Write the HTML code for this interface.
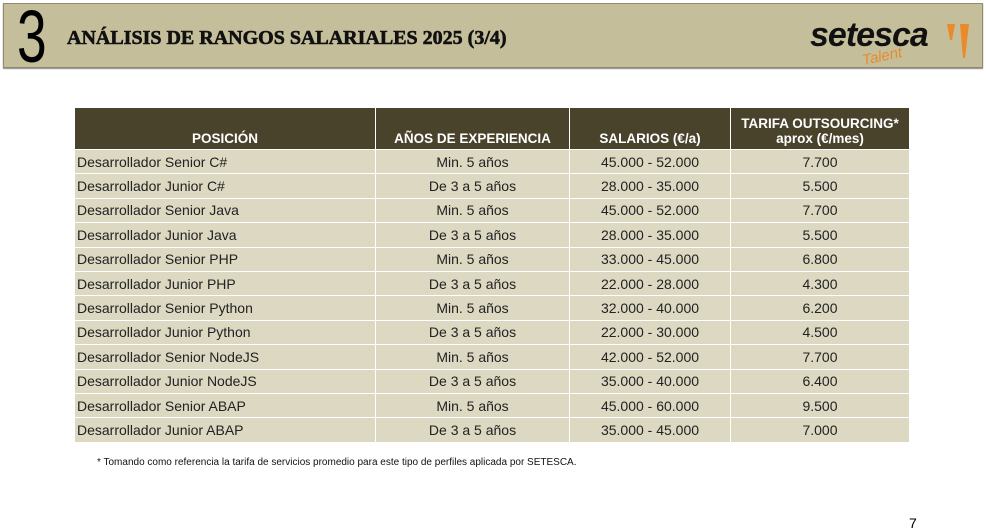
<!DOCTYPE html>
<html><head><meta charset="utf-8"><style>
body{margin:0;width:986px;height:524px;background:#fff;position:relative;overflow:hidden;font-family:"Liberation Sans",sans-serif}
.hdr{position:absolute;left:3px;top:3px;width:978px;height:63px;background:#c5be9a;border:1px solid #8f8a6c;box-shadow:0 1px 1px #888}
.num{position:absolute;left:17px;top:0px;font-size:74px;line-height:74px;color:#000;transform:scaleX(0.72);transform-origin:left}
.ttl{position:absolute;left:67px;top:27px;font-family:"Liberation Serif",serif;font-weight:bold;font-size:20px;color:#111;-webkit-text-stroke:0.6px #111}
.logo{position:absolute;left:810px;top:16px;font-size:34px;font-weight:bold;font-style:italic;color:#111;letter-spacing:-1px}
.talent{position:absolute;left:862px;top:48px;font-size:15px;font-style:italic;color:#e98a2b;transform:rotate(-12deg)}
table{position:absolute;left:74px;top:107px;border-collapse:collapse;width:836px;font-size:14px;color:#222}
td,th{border:1px solid #fff;padding:0 2px;height:23.4px}
th{background:#4a432c;color:#fff;font-weight:bold;font-size:13.5px;height:38px;vertical-align:bottom;padding-bottom:3px}
td{background:#dcd8c2}
td.c{text-align:center}
.note{position:absolute;left:97px;top:457px;font-size:10px;color:#111}
.pg{position:absolute;left:909px;top:515px;font-size:14px}
</style></head><body>
<div class="hdr"></div>
<div class="num">3</div>
<div class="ttl">ANÁLISIS DE RANGOS SALARIALES 2025 (3/4)</div>
<div class="logo">setesca</div>
<div class="talent">Talent</div>
<svg style="position:absolute;left:945px;top:22px" width="30" height="40"><polygon points="2,2 10,2 7,18 5,18" fill="#e98a2b"/><polygon points="15,2 24,2 20,36 18,36" fill="#e98a2b"/></svg>
<table>
<tr><th style="width:296px">POSICIÓN</th><th style="width:189px">AÑOS DE EXPERIENCIA</th><th style="width:156px">SALARIOS (€/a)</th><th>TARIFA OUTSOURCING*<br>aprox (€/mes)</th></tr>
<tr><td>Desarrollador Senior C#</td><td class="c">Min. 5 años</td><td class="c">45.000 - 52.000</td><td class="c">7.700</td></tr>
<tr><td>Desarrollador Junior C#</td><td class="c">De 3 a 5 años</td><td class="c">28.000 - 35.000</td><td class="c">5.500</td></tr>
<tr><td>Desarrollador Senior Java</td><td class="c">Min. 5 años</td><td class="c">45.000 - 52.000</td><td class="c">7.700</td></tr>
<tr><td>Desarrollador Junior Java</td><td class="c">De 3 a 5 años</td><td class="c">28.000 - 35.000</td><td class="c">5.500</td></tr>
<tr><td>Desarrollador Senior PHP</td><td class="c">Min. 5 años</td><td class="c">33.000 - 45.000</td><td class="c">6.800</td></tr>
<tr><td>Desarrollador Junior PHP</td><td class="c">De 3 a 5 años</td><td class="c">22.000 - 28.000</td><td class="c">4.300</td></tr>
<tr><td>Desarrollador Senior Python</td><td class="c">Min. 5 años</td><td class="c">32.000 - 40.000</td><td class="c">6.200</td></tr>
<tr><td>Desarrollador Junior Python</td><td class="c">De 3 a 5 años</td><td class="c">22.000 - 30.000</td><td class="c">4.500</td></tr>
<tr><td>Desarrollador Senior NodeJS</td><td class="c">Min. 5 años</td><td class="c">42.000 - 52.000</td><td class="c">7.700</td></tr>
<tr><td>Desarrollador Junior NodeJS</td><td class="c">De 3 a 5 años</td><td class="c">35.000 - 40.000</td><td class="c">6.400</td></tr>
<tr><td>Desarrollador Senior ABAP</td><td class="c">Min. 5 años</td><td class="c">45.000 - 60.000</td><td class="c">9.500</td></tr>
<tr><td>Desarrollador Junior ABAP</td><td class="c">De 3 a 5 años</td><td class="c">35.000 - 45.000</td><td class="c">7.000</td></tr>
</table>
<div class="note">* Tomando como referencia la tarifa de servicios promedio para este tipo de perfiles aplicada por SETESCA.</div>
<div class="pg">7</div>
</body></html>
